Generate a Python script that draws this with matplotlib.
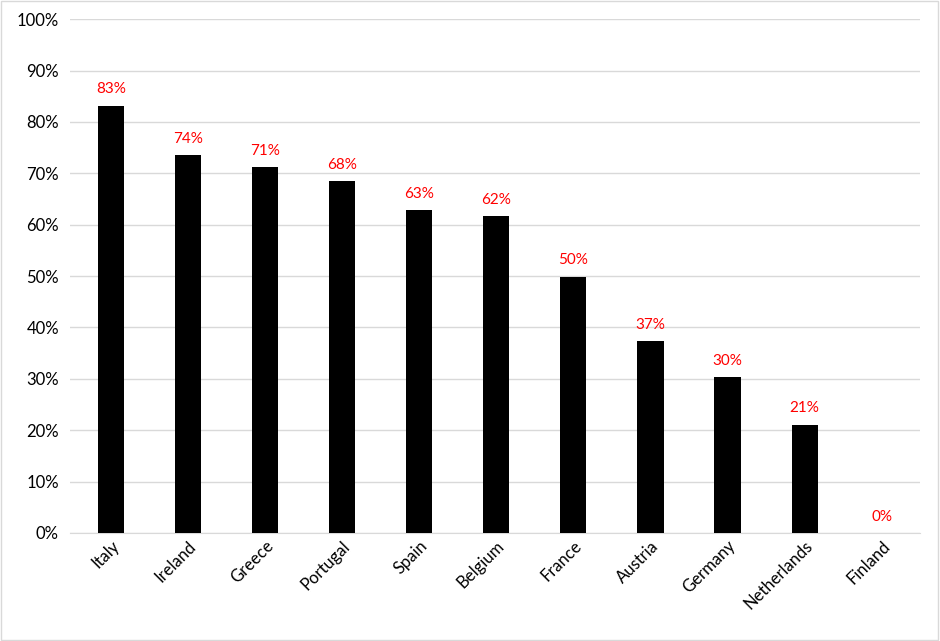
import matplotlib
matplotlib.use("Agg")
import matplotlib.pyplot as plt
from matplotlib.ticker import FuncFormatter, MultipleLocator

countries = ["Italy", "Ireland", "Greece", "Portugal", "Spain", "Belgium", "France",
             "Austria", "Germany", "Netherlands", "Finland"]
values = [83.2, 73.6, 71.2, 68.5, 62.8, 61.7, 49.9, 37.3, 30.3, 21.1, 0.0]
labels = ["83%", "74%", "71%", "68%", "63%", "62%", "50%", "37%", "30%", "21%", "0%"]

plt.rcParams['font.family'] = ['Lato', 'DejaVu Sans']
fig = plt.figure(figsize=(9.4, 6.41), dpi=100)
fig.patches.append(plt.Rectangle((0.001, 0.001), 0.997, 0.997, transform=fig.transFigure,
                                 fill=False, edgecolor="#d9d9d9", linewidth=1))
ax = fig.add_axes([0.0745, 0.1685, 0.9045, 0.8015])
x = list(range(len(countries)))
ax.bar(x, values, width=0.34, color="black", zorder=3)
for xi, v, l in zip(x, values, labels):
    ax.text(xi, v + 1.8, l, ha="center", va="bottom", color="#ff0000", fontsize=11)
ax.set_ylim(0, 100)
ax.set_xlim(-0.53, 10.5)
ax.yaxis.set_major_locator(MultipleLocator(10))
ax.yaxis.set_major_formatter(FuncFormatter(lambda v, p: f"{int(v)}%"))
ax.grid(axis="y", color="#d9d9d9", linewidth=1, zorder=0)
for s in ["top", "right", "left"]:
    ax.spines[s].set_visible(False)
ax.spines["bottom"].set_color("#d9d9d9")
ax.tick_params(axis="both", length=0, labelsize=12)
ax.tick_params(axis="y", pad=8)
ax.set_xticks(x)
ax.set_xticklabels(countries, rotation=45, ha="right", rotation_mode="anchor")
fig.savefig("out.png", dpi=100)
